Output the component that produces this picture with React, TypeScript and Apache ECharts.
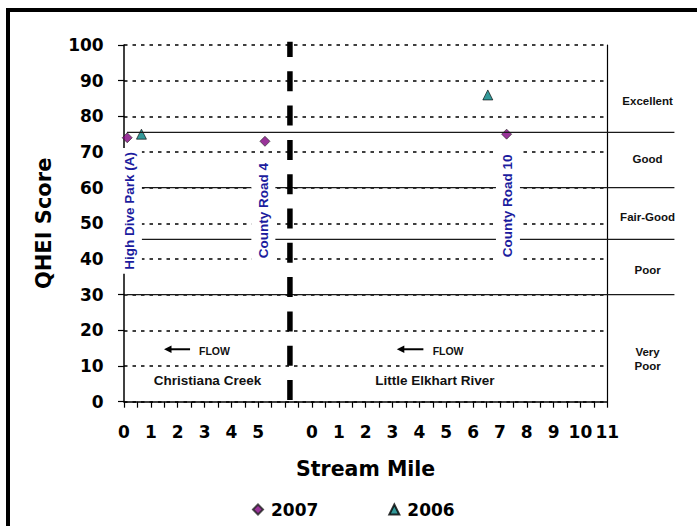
import React, { useEffect, useRef } from 'react';
import * as echarts from 'echarts';

// ---- data ----
const yearNames = ['2007', '2006'];
const christianaMiles2007 = [0.12, 5.25];
const christianaScores2007 = [74, 73];
const elkhartMiles2007 = [7.25];
const elkhartScores2007 = [75];
const christianaMiles2006 = [0.65];
const christianaScores2006 = [75];
const elkhartMiles2006 = [6.55];
const elkhartScores2006 = [86];

const christianaTickMiles = [0, 1, 2, 3, 4, 5];
const elkhartTickMiles = [0, 1, 2, 3, 4, 5, 6, 7, 8, 9, 10, 11];
const yTicks = [0, 10, 20, 30, 40, 50, 60, 70, 80, 90, 100];

const classBreaks = [75.5, 60, 45.5, 30];
const classNames = ['Excellent', 'Good', 'Fair-Good', 'Poor', 'Very\nPoor'];

const siteNames = ['High Dive Park (A)', 'County Road 4', 'County Road 10'];
const siteStreams = ['christiana', 'christiana', 'elkhart'];
const siteMiles = [0.22, 5.19, 7.3];

const streamNames = ['Christiana Creek', 'Little Elkhart River'];

// axis layout: Little Elkhart River mile 0 sits 7 axis units right of Christiana Creek mile 0
const ELKHART_OFFSET = 7;
const AXIS_MAX = 18;
const DIVIDER = 6.18;

const HEAVY = "'DejaVu Sans', 'Liberation Sans', sans-serif";
const ARIAL = "'Liberation Sans', Arial, sans-serif";

const toAxis = (stream: string, mile: number) => (stream === 'elkhart' ? mile + ELKHART_OFFSET : mile);

const zip = (stream: string, miles: number[], scores: number[]) =>
  miles.map((m, i) => [toAxis(stream, m), scores[i]]);

export default function App() {
  const ref = useRef<HTMLDivElement>(null);

  useEffect(() => {
    if (!ref.current) return;
    const chart = echarts.init(ref.current, undefined, { renderer: 'svg' });

    const data2007 = [
      ...zip('christiana', christianaMiles2007, christianaScores2007),
      ...zip('elkhart', elkhartMiles2007, elkhartScores2007),
    ];
    const data2006 = [
      ...zip('christiana', christianaMiles2006, christianaScores2006),
      ...zip('elkhart', elkhartMiles2006, elkhartScores2006),
    ];

    const xFormatter = (v: number) => {
      if (Math.abs(v - Math.round(v)) > 1e-6) return '';
      const n = Math.round(v);
      if (n <= 5 && christianaTickMiles.includes(n)) return String(n);
      if (n >= ELKHART_OFFSET && elkhartTickMiles.includes(n - ELKHART_OFFSET)) return String(n - ELKHART_OFFSET);
      return '';
    };

    chart.setOption({
      animation: false,
      backgroundColor: '#ffffff',
      grid: { left: 124, top: 45, width: 483.3, height: 356.7, containLabel: false },
      legend: {
        data: yearNames,
        left: 247,
        top: 496,
        itemWidth: 10,
        itemHeight: 10,
        itemGap: 70,
        textStyle: { fontFamily: HEAVY, fontWeight: 'bold', fontSize: 17, color: '#000', padding: [0, 0, 0, 3] },
      },
      xAxis: {
        type: 'value',
        min: 0,
        max: AXIS_MAX,
        interval: 0.5,
        axisLine: { show: true, lineStyle: { color: '#000', width: 1.5 } },
        axisTick: { show: true, length: 6, lineStyle: { color: '#000', width: 1.2 } },
        axisLabel: {
          formatter: xFormatter,
          margin: 22,
          fontFamily: HEAVY,
          fontWeight: 'bold',
          fontSize: 17,
          color: '#000',
          showMinLabel: true,
          showMaxLabel: true,
        },
        splitLine: { show: false },
        name: 'Stream Mile',
        nameLocation: 'middle',
        nameGap: 57,
        nameTextStyle: { fontFamily: HEAVY, fontWeight: 'bold', fontSize: 20.5, color: '#000' },
      },
      yAxis: [
        {
          type: 'value',
          min: yTicks[0],
          max: yTicks[yTicks.length - 1],
          interval: 10,
          offset: 2.3,
          axisLine: { show: true, lineStyle: { color: '#000', width: 1.5 } },
          axisTick: { show: true, length: 6, lineStyle: { color: '#000', width: 1.2 } },
          axisLabel: { margin: 18, fontFamily: HEAVY, fontWeight: 'bold', fontSize: 17, color: '#000' },
          splitLine: { show: true, lineStyle: { color: '#000', width: 1.5, type: [3.5, 5] } },
          name: 'QHEI Score',
          nameLocation: 'middle',
          nameGap: 67,
          nameRotate: 90,
          nameTextStyle: { fontFamily: HEAVY, fontWeight: 'bold', fontSize: 21, color: '#000' },
        },
        {
          type: 'value',
          position: 'right',
          min: 0,
          max: 100,
          axisLine: { show: true, lineStyle: { color: '#000', width: 1.2 } },
          axisTick: { show: false },
          axisLabel: { show: false },
          splitLine: { show: false },
        },
      ],
      series: [
        {
          name: yearNames[0],
          type: 'scatter',
          symbol: 'diamond',
          symbolSize: 10,
          itemStyle: { color: '#800080', borderColor: '#222', borderWidth: 0.8 },
          data: data2007,
          z: 5,
        },
        {
          name: yearNames[1],
          type: 'scatter',
          symbol: 'triangle',
          symbolSize: 10,
          itemStyle: { color: '#008080', borderColor: '#000', borderWidth: 0.8 },
          data: data2006,
          z: 5,
        },
      ],
    });

    const px = (u: number, v: number) => chart.convertToPixel({ gridIndex: 0 }, [u, v]) as number[];

    const graphics: any[] = [];

    // outer frame
    graphics.push({
      type: 'rect',
      silent: true,
      z: 1,
      shape: { x: 8, y: 10, width: 760, height: 560 },
      style: { fill: 'none', stroke: '#000', lineWidth: 4 },
    });

    // class threshold lines
    classBreaks.forEach((b) => {
      const a = px(0.11, b);
      const c = px(20.5, b);
      graphics.push({
        type: 'line',
        silent: true,
        z: 10,
        shape: { x1: a[0], y1: a[1], x2: c[0], y2: c[1] },
        style: { stroke: '#1a1a1a', lineWidth: 1.3 },
      });
    });

    // stream divider
    const dTop = px(DIVIDER, 100);
    const dBot = px(DIVIDER, 0);
    graphics.push({
      type: 'line',
      silent: true,
      z: 20,
      shape: { x1: dBot[0], y1: dBot[1] - 1.7, x2: dTop[0], y2: dTop[1] - 3.3 },
      style: { stroke: '#000', lineWidth: 5.5, lineDash: [20, 14.3] },
    });

    // site labels (vertical, white box)
    const siteCenters = [53.5, 53.6, 54.9];
    siteNames.forEach((name, i) => {
      const p = px(toAxis(siteStreams[i], siteMiles[i]), siteCenters[i]);
      graphics.push({
        type: 'text',
        silent: true,
        z: 40,
        x: p[0],
        y: p[1],
        rotation: Math.PI / 2,
        style: {
          text: name,
          fill: '#1c1c9e',
          fontFamily: ARIAL,
          fontWeight: 'bold',
          fontSize: 13.5,
          align: 'center',
          verticalAlign: 'middle',
          textAlign: 'center',
          textVerticalAlign: 'middle',
          backgroundColor: '#ffffff',
          padding: [5, 4],
        },
      });
    });

    // flow arrows
    const arrows = [
      [1.49, 2.46, 14.7, 3.37],
      [10.16, 11.15, 14.7, 12.07],
    ];
    arrows.forEach(([u0, u1, v, ut]) => {
      const tip = px(u0, v);
      const end = px(u1, v);
      graphics.push({
        type: 'line',
        silent: true,
        z: 30,
        shape: { x1: tip[0] + 5, y1: tip[1], x2: end[0], y2: end[1] },
        style: { stroke: '#000', lineWidth: 2 },
      });
      graphics.push({
        type: 'polygon',
        silent: true,
        z: 30,
        shape: { points: [[tip[0], tip[1]], [tip[0] + 7.5, tip[1] - 3.8], [tip[0] + 7.5, tip[1] + 3.8]] },
        style: { fill: '#000' },
      });
      const t = px(ut, v - 0.6);
      graphics.push({
        type: 'text',
        silent: true,
        z: 30,
        x: t[0],
        y: t[1],
        style: {
          text: 'FLOW',
          fill: '#111',
          fontFamily: ARIAL,
          fontWeight: 'bold',
          fontSize: 10.5,
          align: 'center',
          verticalAlign: 'middle',
          textAlign: 'center',
          textVerticalAlign: 'middle',
        },
      });
    });

    // stream names
    const streamCenters = [3.11, 11.58];
    streamNames.forEach((name, i) => {
      const p = px(streamCenters[i], 5.9);
      graphics.push({
        type: 'text',
        silent: true,
        z: 30,
        x: p[0],
        y: p[1],
        style: {
          text: name,
          fill: '#111',
          fontFamily: ARIAL,
          fontWeight: 'bold',
          fontSize: 13.5,
          align: 'center',
          verticalAlign: 'middle',
          textAlign: 'center',
          textVerticalAlign: 'middle',
        },
      });
    });

    // class names on the right
    const classCenters = [84.3, 68, 51.9, 36.9, 12];
    classNames.forEach((name, i) => {
      const p = px(19.5, classCenters[i]);
      graphics.push({
        type: 'text',
        silent: true,
        z: 30,
        x: p[0],
        y: p[1],
        style: {
          text: name,
          fill: '#111',
          fontFamily: ARIAL,
          fontWeight: 'bold',
          fontSize: 11.5,
          lineHeight: 13.7,
          align: 'center',
          verticalAlign: 'middle',
          textAlign: 'center',
          textVerticalAlign: 'middle',
        },
      });
    });

    chart.setOption({ graphic: graphics });

    return () => {
      chart.dispose();
    };
  }, []);

  return (
    <div
      ref={ref}
      style={{ position: 'fixed', left: 0, top: 0, width: 697, height: 526, background: '#fff' }}
    />
  );
}
